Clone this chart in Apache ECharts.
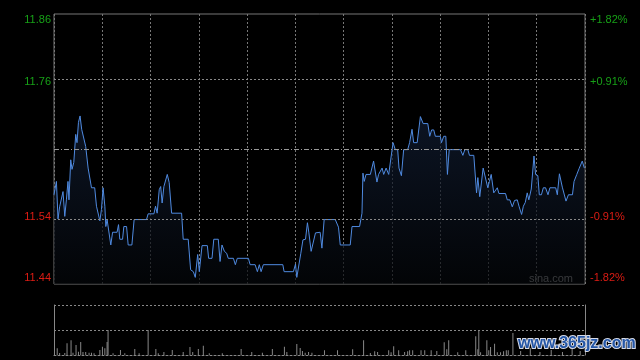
<!DOCTYPE html>
<html><head><meta charset="utf-8">
<script src="https://cdn.jsdelivr.net/npm/echarts@6/dist/echarts.min.js"></script>
<style>html,body{margin:0;padding:0;background:#000;}#c{width:640px;height:360px;}</style>
</head><body><div id="c"></div>
<script>
// previous close and axis range
const prevClose = 11.65;
const priceMin = 11.4376;
const priceMax = 11.8624;
const tickValues = [11.8624, 11.7562, 11.5438, 11.4376];
const leftTickLabels = ['11.86', '11.76', '11.54', '11.44'];
const rightTickLabels = ['+1.82%', '+0.91%', '-0.91%', '-1.82%'];

// intraday price (minutes after open, 330 = close)
const minutes = [0,1.5,2.5,3.5,4.6,5.6,6.7,7.7,8.7,9.3,
10.4,11.2,12.3,13.5,14.3,15.2,16.2,17.2,18.1,19.7,
21.2,23.3,25.3,26.4,27.4,28.5,29.5,30.5,31.6,32.2,
33,34.2,35.3,36.4,39.2,40.1,40.9,42.6,43.4,45.1,
46.1,48.4,49.8,57.5,58.5,62.1,63.1,64.1,65.4,66.3,
67.2,68.3,70.4,71.6,73.1,79.3,80.3,83.4,84.9,86.6,
87.8,89.3,90.3,92,95.3,96.1,98.2,99.3,102.1,103.2,
104.4,105.9,107.3,108.3,111.5,112.7,113.9,120.8,121.9,125,
126.4,127.6,128.7,130.1,142.2,143,148.8,150.1,150.9,151.9,
153.4,154.7,156.3,157.5,158.4,159.8,160.9,162.5,165.4,166.5,
167.9,174.8,176.8,177.9,184.1,185.2,189.9,191.4,192,192.8,
193.9,196.6,198.6,200.7,201.7,203.9,204.9,206.4,208,210.7,
212.1,213.6,214.4,215.3,215.9,217.3,219.8,221,222.5,223.5,
225.7,227.7,229.4,232.3,233.5,234.7,236,237,240.1,240.8,
242.2,243.5,244.5,245.6,252.6,254.1,255.3,257.2,258.2,260.9,
262.6,263.4,264.6,266.7,267.7,269.6,270.6,271.7,273.3,275.5,
276.5,280.6,281.7,283.3,284.8,286.2,287.9,289.1,290.6,291.7,
292.9,294.1,295.1,296.6,298.3,299.3,300.7,301.6,302.9,304.1,
305.5,307,308.2,311.8,312.8,314.1,315.9,316.9,318.2,319.7,
322.2,323.2,324.9,326.3,327.3,328.3,329.6];
const prices = [11.578,11.599,11.540,11.559,11.559,11.583,11.544,11.570,11.599,11.570,
11.633,11.618,11.629,11.673,11.660,11.692,11.702,11.681,11.680,11.654,
11.620,11.589,11.589,11.560,11.559,11.537,11.555,11.589,11.560,11.528,
11.539,11.539,11.499,11.519,11.519,11.531,11.508,11.508,11.528,11.528,
11.499,11.499,11.539,11.539,11.548,11.548,11.560,11.549,11.586,11.591,
11.565,11.591,11.610,11.597,11.549,11.549,11.508,11.508,11.460,11.457,
11.448,11.484,11.457,11.498,11.498,11.478,11.478,11.508,11.508,11.473,
11.499,11.489,11.486,11.478,11.478,11.468,11.478,11.478,11.468,11.468,
11.457,11.468,11.457,11.468,11.468,11.457,11.457,11.469,11.448,11.448,
11.486,11.507,11.508,11.534,11.518,11.489,11.489,11.518,11.519,11.494,
11.539,11.539,11.527,11.499,11.499,11.528,11.528,11.549,11.612,11.599,
11.610,11.610,11.631,11.598,11.610,11.620,11.610,11.620,11.610,11.660,
11.649,11.649,11.620,11.619,11.608,11.649,11.649,11.660,11.681,11.660,
11.660,11.701,11.690,11.690,11.670,11.680,11.680,11.670,11.670,11.660,
11.670,11.670,11.610,11.649,11.649,11.640,11.649,11.649,11.640,11.640,
11.581,11.605,11.575,11.620,11.618,11.589,11.599,11.610,11.581,11.589,
11.580,11.580,11.570,11.570,11.559,11.569,11.570,11.559,11.547,11.560,
11.566,11.581,11.570,11.587,11.639,11.610,11.608,11.578,11.578,11.589,
11.589,11.578,11.589,11.589,11.578,11.611,11.590,11.589,11.568,11.578,
11.578,11.599,11.610,11.619,11.619,11.631,11.620];

// volume bars
const volMinutes = [2,3.5,6.7,8.1,10.6,11.8,13.7,15.2,16.6,18,
19.7,21.8,23.3,24.9,28.5,30.1,31.6,33,33.6,36.7,
41.3,44,50.2,52.9,58.5,63.3,64.8,68.3,73.5,80.3,
84.5,86.2,89.7,92.8,96.5,104.6,116.3,122.9,129.5,135.7,
143.2,144.7,150.9,153,154.4,156.1,158.2,160.3,168.1,176.2,
185.6,192.4,196.6,199.3,201.1,208,209.5,211.1,214.2,217.9,
219.8,221,222.9,228.1,230.4,234.4,237.9,242.5,244.1,245.3,
250.9,255.9,262.1,263.4,264,265.1,269,270.2,271.3,273.8,
275.5,277.5,279.4,281.1,282.3,285.2,290,296,302,309,
316,322,327];
const volumes = [6.7,2,2,11.7,14.8,2.3,10,3.3,13,3,
3,2.3,2.3,1.7,5,8.3,6.7,13,25,1.7,
5,1.7,6,1.7,25,6,1.7,3,5,3,
8,3,6,9.3,1.7,1.7,6,3,2.3,6,
8.3,3,11,7,4,2.3,3,2.3,4.7,4.7,
5.7,14.7,2,3.7,3,4.7,2.7,8.7,4.7,3,
3.7,4.7,4.7,4.7,4.7,4.7,4,12.7,5.7,14.7,
2.7,4.7,18.7,5.7,24,2.7,14.7,4.7,8,11.3,
2.7,2.7,3.7,4.7,4.7,22,4,7,3,5,
3,8,4];

const GREEN = '#17a017', RED = '#dd1c14';
const priceData = minutes.map((m, i) => [m, prices[i]]);
const volData = volMinutes.map((m, i) => [m, volumes[i]]);

function tickIndex(v) {
  let best = 0, d = Infinity;
  tickValues.forEach((t, i) => { const dd = Math.abs(t - v); if (dd < d) { d = dd; best = i; } });
  return best;
}
const styleKeys = ['gt', 'g', 'r', 'rb'];
function richFor() {
  return {
    gt: { color: GREEN, padding: [11, 0, 0, 0] },
    g: { color: GREEN },
    r: { color: RED },
    rb: { color: RED, padding: [0, 0, 12, 0] }
  };
}
const labelFont = { fontFamily: 'Liberation Sans, Arial, sans-serif', fontSize: 11 };

const chart = echarts.init(document.getElementById('c'), null, { renderer: 'canvas' });
chart.setOption({
  backgroundColor: '#000',
  animation: false,
  grid: [
    { left: 54, right: 55, top: 14, height: 270, show: true, borderColor: '#777', borderWidth: 1, backgroundColor: 'transparent' },
    { left: 54, right: 55, top: 305, height: 50 }
  ],
  xAxis: [
    { type: 'value', gridIndex: 0, min: 0, max: 330, interval: 30,
      axisLine: { show: false }, axisTick: { show: false }, axisLabel: { show: false },
      splitLine: { show: true, lineStyle: { color: '#777', type: [2, 2], width: 1 } } },
    { type: 'value', gridIndex: 1, min: 0, max: 330, interval: 30,
      axisLine: { show: true, lineStyle: { color: '#888', type: [2, 2], width: 1 } },
      axisTick: { show: false }, axisLabel: { show: false }, splitLine: { show: false } }
  ],
  yAxis: [
    { type: 'value', gridIndex: 0, min: priceMin, max: priceMax, position: 'left',
      axisLine: { show: false }, axisTick: { show: false }, splitLine: { show: false },
      axisLabel: Object.assign({ show: true, margin: 3, customValues: tickValues,
        formatter: v => { const i = tickIndex(v); return '{' + styleKeys[i] + '|' + leftTickLabels[i] + '}'; },
        rich: richFor() }, labelFont) },
    { type: 'value', gridIndex: 0, min: priceMin, max: priceMax, position: 'right',
      axisLine: { show: false }, axisTick: { show: false }, splitLine: { show: false },
      axisLabel: Object.assign({ show: true, margin: 5, customValues: tickValues,
        formatter: v => { const i = tickIndex(v); return '{' + styleKeys[i] + '|' + rightTickLabels[i] + '}'; },
        rich: richFor() }, labelFont) },
    { type: 'value', gridIndex: 1, min: 0, max: 50, interval: 25, position: 'left',
      axisLine: { show: true, lineStyle: { color: '#888' } }, axisTick: { show: false }, axisLabel: { show: false },
      splitLine: { show: true, lineStyle: { color: '#888', type: [2, 2] } } },
    { type: 'value', gridIndex: 1, min: 0, max: 50, position: 'right',
      axisLine: { show: true, lineStyle: { color: '#888' } }, axisTick: { show: false }, axisLabel: { show: false },
      splitLine: { show: false } }
  ],
  series: [
    { type: 'line', xAxisIndex: 0, yAxisIndex: 0, data: priceData, showSymbol: false, symbol: 'none',
      lineStyle: { color: '#4f8ae0', width: 1 },
      areaStyle: { origin: 'start', color: new echarts.graphic.LinearGradient(0, 0, 0, 1, [
        { offset: 0, color: '#111d33' }, { offset: 1, color: '#040609' }]) },
      markLine: { silent: true, symbol: 'none', label: { show: false }, animation: false,
        data: [
          { yAxis: 11.7562, lineStyle: { color: '#888', type: [2, 2], width: 1 } },
          { yAxis: 11.5438, lineStyle: { color: '#888', type: [2, 2], width: 1 } },
          { yAxis: prevClose, lineStyle: { color: '#999', type: [5, 2, 1, 2], width: 1 } }
        ] },
      z: 3 },
    { type: 'bar', xAxisIndex: 1, yAxisIndex: 2, data: volData, barWidth: 1,
      itemStyle: { color: '#888' } }
  ],
  graphic: [
    { type: 'text', right: 67, top: 273, style: { text: 'sina.com', fill: '#aaa', font: '11px Liberation Sans, Arial, sans-serif' } },
    { type: 'text', left: 517, top: 335, style: { text: 'www.365jz.com', fill: '#2456a6', stroke: '#d8dce8', lineWidth: 2,
      font: 'bold 16px Liberation Sans, Arial, sans-serif' }, z: 100 }
  ]
});
</script>
</body></html>
